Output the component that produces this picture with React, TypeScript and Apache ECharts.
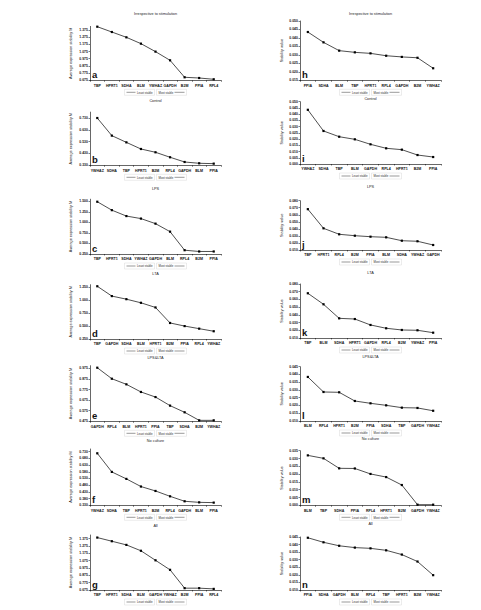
import React, { useEffect, useRef } from "react";
import * as echarts from "echarts";

// ---- geNorm: average expression stability M (left column) ----
const genesA = ["TBP", "HPRT1", "SDHA", "BLM", "YWHAZ", "GAPDH", "B2M", "PPIA", "RPL4"];
const mA = [1.421, 1.347, 1.273, 1.185, 1.074, 0.953, 0.717, 0.707, 0.689];
const ticksA = [0.675, 0.775, 0.875, 0.975, 1.075, 1.175, 1.275, 1.375];

const genesB = ["YWHAZ", "SDHA", "TBP", "HPRT1", "B2M", "RPL4", "GAPDH", "BLM", "PPIA"];
const mB = [0.73, 0.581, 0.524, 0.468, 0.44, 0.398, 0.358, 0.347, 0.344];
const ticksB = [0.33, 0.43, 0.53, 0.63, 0.73];

const genesC = ["TBP", "HPRT1", "SDHA", "YWHAZ", "GAPDH", "BLM", "RPL4", "B2M", "PPIA"];
const mC = [1.49, 1.29, 1.15, 1.09, 0.97, 0.78, 0.34, 0.31, 0.31];
const ticksC = [0.25, 0.5, 0.75, 1.0, 1.25, 1.5];

const genesD = ["TBP", "GAPDH", "SDHA", "BLM", "HPRT1", "B2M", "PPIA", "RPL4", "YWHAZ"];
const mD = [1.27, 1.08, 1.02, 0.95, 0.86, 0.56, 0.5, 0.45, 0.4];
const ticksD = [0.25, 0.5, 0.75, 1.0, 1.25];

const genesE = ["GAPDH", "RPL4", "BLM", "HPRT1", "PPIA", "TBP", "SDHA", "B2M", "YWHAZ"];
const mE = [0.981, 0.877, 0.824, 0.752, 0.704, 0.623, 0.56, 0.484, 0.484];
const ticksE = [0.475, 0.575, 0.675, 0.775, 0.875, 0.975];

const genesF = ["YWHAZ", "SDHA", "TBP", "HPRT1", "B2M", "RPL4", "GAPDH", "BLM", "PPIA"];
const mF = [0.718, 0.579, 0.527, 0.47, 0.437, 0.397, 0.36, 0.352, 0.35];
const ticksF = [0.33, 0.38, 0.43, 0.48, 0.53, 0.58, 0.63, 0.68, 0.73];

const genesG = ["TBP", "HPRT1", "SDHA", "BLM", "GAPDH", "YWHAZ", "B2M", "PPIA", "RPL4"];
const mG = [1.39, 1.34, 1.29, 1.21, 1.08, 0.95, 0.7, 0.7, 0.69];
const ticksG = [0.675, 0.775, 0.875, 0.975, 1.075, 1.175, 1.275, 1.375];

// ---- NormFinder: stability value (right column) ----
const genesH = ["PPIA", "SDHA", "BLM", "TBP", "HPRT1", "RPL4", "GAPDH", "B2M", "YWHAZ"];
const sH = [0.0435, 0.0374, 0.0325, 0.0315, 0.0309, 0.0295, 0.0288, 0.0283, 0.0221];
const ticksH = [0.015, 0.02, 0.025, 0.03, 0.035, 0.04, 0.045, 0.05];

const genesI = ["YWHAZ", "SDHA", "TBP", "BLM", "GAPDH", "RPL4", "HPRT1", "B2M", "PPIA"];
const sI = [0.0435, 0.0265, 0.0219, 0.0198, 0.0158, 0.0126, 0.0115, 0.0072, 0.0056];
const ticksI = [0, 0.005, 0.01, 0.015, 0.02, 0.025, 0.03, 0.035, 0.04, 0.045, 0.05];

const genesJ = ["TBP", "HPRT1", "RPL4", "B2M", "PPIA", "BLM", "SDHA", "YWHAZ", "GAPDH"];
const sJ = [0.068, 0.0408, 0.0323, 0.0303, 0.0289, 0.028, 0.0232, 0.0224, 0.0171];
const ticksJ = [0.01, 0.02, 0.03, 0.04, 0.05, 0.06, 0.07, 0.08];

const genesK = ["TBP", "BLM", "SDHA", "HPRT1", "GAPDH", "RPL4", "B2M", "YWHAZ", "PPIA"];
const sK = [0.068, 0.0537, 0.0355, 0.0346, 0.0269, 0.0226, 0.0204, 0.02, 0.0169];
const ticksK = [0.01, 0.02, 0.03, 0.04, 0.05, 0.06, 0.07, 0.08];

const genesL = ["BLM", "RPL4", "HPRT1", "B2M", "PPIA", "SDHA", "TBP", "GAPDH", "YWHAZ"];
const sL = [0.0384, 0.0287, 0.0285, 0.0229, 0.0214, 0.0201, 0.0186, 0.0184, 0.0166];
const ticksL = [0.01, 0.015, 0.02, 0.025, 0.03, 0.035, 0.04, 0.045];

const genesM = ["BLM", "TBP", "SDHA", "PPIA", "RPL4", "HPRT1", "B2M", "GAPDH", "YWHAZ"];
const sM = [0.032, 0.0301, 0.0237, 0.0236, 0.0201, 0.0181, 0.013, 0.0004, 0.0004];
const ticksM = [0, 0.005, 0.01, 0.015, 0.02, 0.025, 0.03, 0.035];

const genesN = ["PPIA", "SDHA", "GAPDH", "BLM", "RPL4", "TBP", "HPRT1", "B2M", "YWHAZ"];
const sN = [0.0445, 0.0415, 0.0392, 0.038, 0.0375, 0.0362, 0.0334, 0.0288, 0.0198];
const ticksN = [0.01, 0.015, 0.02, 0.025, 0.03, 0.035, 0.04, 0.045];

const titles = [
  "Irrespective to stimulation", "Control", "LPS", "LTA", "LPS&LTA", "No culture", "All",
  "Irrespective to stimulation", "Control", "LPS", "LTA", "LPS&LTA", "No culture", "All",
];
const letters = ["a", "b", "c", "d", "e", "f", "g", "h", "i", "j", "k", "l", "m", "n"];
const geneSets = [genesA, genesB, genesC, genesD, genesE, genesF, genesG, genesH, genesI, genesJ, genesK, genesL, genesM, genesN];
const valueSets = [mA, mB, mC, mD, mE, mF, mG, sH, sI, sJ, sK, sL, sM, sN];
const tickSets = [ticksA, ticksB, ticksC, ticksD, ticksE, ticksF, ticksG, ticksH, ticksI, ticksJ, ticksK, ticksL, ticksM, ticksN];
const axisMax = [1.425, 0.78, 1.55, 1.3, 1.0, 0.75, 1.425, 0.05, 0.05, 0.08, 0.08, 0.045, 0.035, 0.045];

// layout: plot boxes per panel (pixels)
const colLeft = [90, 300];
const colWidth = [131, 141];
const plotTop = [26.4, 112.1, 199.2, 284.7, 365.7, 449, 535, 21, 101.7, 200.7, 284, 366.7, 450.7, 537];
const plotBottom = [80.3, 165.3, 254, 339, 421.3, 505.3, 590, 80.3, 164, 250, 338, 421, 505.3, 590];
const titleY = [14, 101, 189, 274, 358, 441, 526, 14, 99, 187, 273, 357, 439, 524];

const FONT = "Liberation Sans, Arial, sans-serif";

function buildOption() {
  const grid: any[] = [];
  const xAxis: any[] = [];
  const yAxis: any[] = [];
  const series: any[] = [];
  const graphic: any[] = [];

  for (let i = 0; i < 14; i++) {
    const col = i < 7 ? 0 : 1;
    const left = colLeft[col];
    const width = colWidth[col];
    const top = plotTop[i];
    const bottom = plotBottom[i];
    const cx = left + width / 2;
    const ticks = tickSets[i];

    grid.push({ left, top, width, height: bottom - top, containLabel: false });
    xAxis.push({
      type: "category",
      gridIndex: i,
      data: geneSets[i],
      boundaryGap: true,
      axisLine: { lineStyle: { color: "#000", width: 0.6 } },
      axisTick: { show: true, length: 1.5, lineStyle: { color: "#000", width: 0.5 } },
      axisLabel: {
        interval: 0,
        fontSize: 3.6,
        fontWeight: "bold",
        fontFamily: FONT,
        color: "#111",
        margin: 3.2,
      },
      splitLine: { show: false },
    });
    yAxis.push({
      type: "value",
      gridIndex: i,
      min: ticks[0],
      max: axisMax[i],
      name: col === 0 ? "Average expression stability M" : "Stability value",
      nameLocation: "middle",
      nameGap: col === 0 ? 17 : 16,
      nameTextStyle: { fontSize: 3.8, fontFamily: FONT, color: "#111" },
      axisLine: { show: true, lineStyle: { color: "#000", width: 0.6 } },
      axisTick: { show: true, length: 1.5, customValues: ticks, lineStyle: { color: "#000", width: 0.5 } },
      axisLabel: {
        customValues: ticks,
        fontSize: 3.4,
        fontWeight: "bold",
        fontFamily: FONT,
        color: "#111",
        margin: 2.2,
        formatter: (v: number) => v.toFixed(3),
      },
      splitLine: { show: false },
    });
    series.push({
      type: "line",
      xAxisIndex: i,
      yAxisIndex: i,
      data: valueSets[i],
      symbol: "rect",
      symbolSize: 2.2,
      lineStyle: { color: "#222", width: 0.8 },
      itemStyle: { color: "#000" },
      silent: true,
    });

    // panel title
    graphic.push({
      type: "text",
      x: cx,
      y: titleY[i],
      style: {
        text: titles[i],
        fontSize: 3.8,
        fontFamily: FONT,
        fill: "#222",
        align: "center",
        verticalAlign: "middle",
        textAlign: "center",
        textVerticalAlign: "middle",
      },
    });
    // panel letter
    graphic.push({
      type: "text",
      x: left + 2,
      y: bottom - 1,
      style: {
        text: letters[i],
        fontSize: 9.5,
        fontWeight: "bold",
        fontFamily: FONT,
        fill: "#111",
        align: "left",
        verticalAlign: "bottom",
        textAlign: "left",
        textVerticalAlign: "bottom",
      },
    });
    // stability direction key under each plot
    const ly = bottom + 12;
    graphic.push({
      type: "group",
      children: [
        { type: "rect", shape: { x: cx - 31, y: ly - 3, width: 30, height: 6 }, style: { fill: "none", stroke: "#d8d8d8", lineWidth: 0.5 } },
        { type: "rect", shape: { x: cx + 1, y: ly - 3, width: 30, height: 6 }, style: { fill: "none", stroke: "#d8d8d8", lineWidth: 0.5 } },
        { type: "line", shape: { x1: cx - 29, y1: ly, x2: cx - 20, y2: ly }, style: { stroke: "#333", lineWidth: 0.5 } },
        {
          type: "text", x: cx - 18.5, y: ly,
          style: { text: "Least stable", fontSize: 2.9, fontFamily: FONT, fill: "#333", align: "left", verticalAlign: "middle", textAlign: "left", textVerticalAlign: "middle" },
        },
        {
          type: "text", x: cx + 3, y: ly,
          style: { text: "Most stable", fontSize: 2.9, fontFamily: FONT, fill: "#333", align: "left", verticalAlign: "middle", textAlign: "left", textVerticalAlign: "middle" },
        },
        { type: "line", shape: { x1: cx + 19, y1: ly, x2: cx + 29, y2: ly }, style: { stroke: "#333", lineWidth: 0.5 } },
      ],
    });
  }

  return {
    animation: false,
    backgroundColor: "#fff",
    textStyle: { fontFamily: FONT },
    grid,
    xAxis,
    yAxis,
    series,
    graphic,
  };
}

export default function App() {
  const ref = useRef<HTMLDivElement>(null);
  useEffect(() => {
    document.body.style.margin = "0";
    if (!ref.current) return;
    const chart = echarts.init(ref.current, undefined, { renderer: "svg", width: 481, height: 610 });
    chart.setOption(buildOption() as any);
    return () => chart.dispose();
  }, []);
  return <div ref={ref} style={{ width: 481, height: 610, background: "#fff" }} />;
}
